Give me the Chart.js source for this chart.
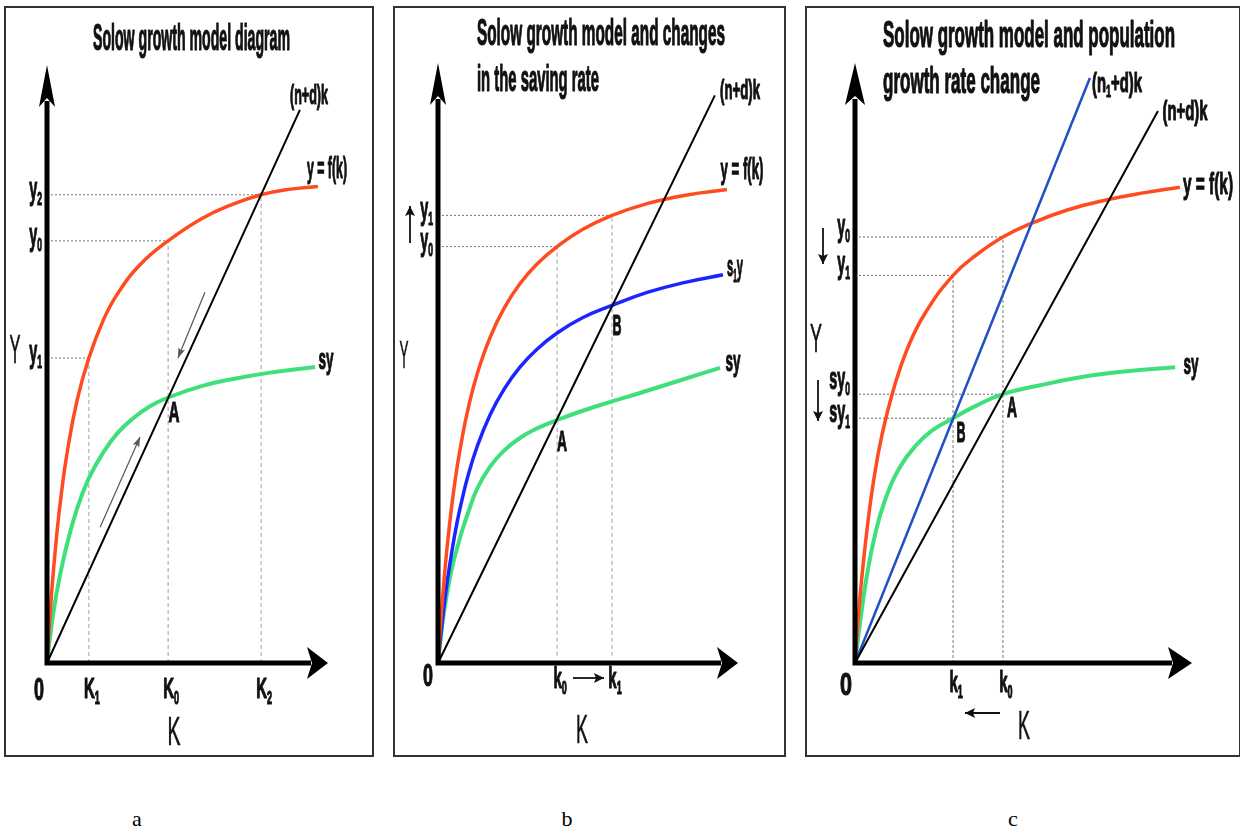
<!DOCTYPE html>
<html><head><meta charset="utf-8">
<script src="https://cdn.jsdelivr.net/npm/chart.js@4.4.1/dist/chart.umd.min.js"></script>
<style>
body{margin:0;background:#fff;width:1240px;height:832px;position:relative;overflow:hidden}
canvas{position:absolute;outline:2px solid #333}
.cap{position:absolute;top:806px;width:40px;text-align:center;line-height:22px;font:22px "Liberation Serif","Times New Roman",serif;color:#000}
</style></head><body>
<canvas id="ca" width="366" height="747" style="left:6px;top:8px"></canvas>
<canvas id="cb" width="389" height="747" style="left:395px;top:8px"></canvas>
<canvas id="cc" width="432" height="747" style="left:807px;top:8px"></canvas>
<div class="cap" style="left:117px">a</div>
<div class="cap" style="left:547px">b</div>
<div class="cap" style="left:993px">c</div>
<script>
// ---- panel a : basic diagram ----
const aOutK = [0, 0.5, 1, 2, 3.6, 5, 7.1, 10.7, 14.9, 20, 24.9, 33.1, 43.1, 55, 66, 76.2, 86, 96.4]
const aOutY = [0, 3.9, 7.5, 13.8, 22.1, 27.9, 35.0, 43.9, 51.0, 57.3, 61.6, 66.6, 70.6, 74.3, 76.7, 78.3, 79.2, 79.7]
const aSavK = [0, 1, 2.1, 4, 7.1, 10.7, 14.9, 20, 25, 30.6, 36.5, 43.1, 55, 66.2, 80, 95.4]
const aSavY = [0, 4.0, 7.9, 13.2, 19.8, 25.8, 30.9, 35.2, 38.4, 40.9, 42.9, 44.4, 46.3, 47.5, 48.6, 49.5]
const aDepK = [0, 90.0]
const aDepY = [0, 92.5]
const aTickK = [14.9, 43.1, 76.2]
const aTickKLabels = ['K_1', 'K_0', 'K_2']
const aTickY = [51.0, 70.6, 78.3]
const aTickYLabels = ['y_1', 'y_0', 'y_2']
const aArrowDown = [[56.2, 62.0], [46.6, 51.0]]
const aArrowUp = [[18.9, 22.7], [33.1, 37.8]]

// ---- panel b : saving rate change ----
const bOutK = [0, 0.5, 1, 2, 3, 4.5, 6.3, 8, 10, 13, 17.3, 22, 27.3, 33, 39.7, 48, 58, 70, 83, 96.3]
const bOutY = [0, 3.9, 7.4, 13.7, 19.1, 25.9, 32.4, 37.4, 42.3, 48.1, 54.2, 59.1, 63.2, 66.5, 69.4, 72.2, 74.6, 76.6, 78.0, 78.9]
const bS1K = [0, 0.5, 1, 2, 3, 4.5, 6.3, 8, 10, 13, 17.3, 22, 27.3, 33, 39.7, 48, 58, 70, 82, 95]
const bS1Y = [0, 2.6, 5.0, 9.4, 13.3, 18.2, 23.3, 27.2, 31.2, 36.0, 41.3, 45.6, 49.3, 52.3, 55.0, 57.5, 59.6, 61.8, 63.4, 64.7]
const bSavK = [0, 1, 2, 3, 4.5, 6.3, 8, 10, 13, 17.3, 22, 27.3, 33, 39.7, 48, 58, 67.3, 80, 94]
const bSavY = [0, 4.5, 8.5, 11.5, 15.5, 19.0, 22.0, 25.0, 29.0, 32.7, 35.4, 37.5, 39.1, 40.5, 42.0, 43.6, 45.0, 47.0, 49.2]
const bDepK = [0, 92.3]
const bDepY = [0, 94.6]
const bTickK = [39.7, 58.0]
const bTickKLabels = ['k_0', 'k_1']
const bTickY = [74.6, 69.4]
const bTickYLabels = ['y_1', 'y_0']

// ---- panel c : population growth change ----
const cOutK = [0, 0.5, 1, 2, 3.6, 5.5, 8, 11.9, 16, 20.8, 29.1, 36, 43.9, 52.5, 63, 74.8, 86, 96.4]
const cOutY = [0, 4.0, 7.7, 14.1, 22.4, 30.3, 38.0, 46.5, 53.0, 58.3, 64.6, 68.0, 71.0, 73.3, 75.5, 77.2, 78.4, 79.3]
const cSavK = [0, 1, 2, 3.6, 6, 9, 13.4, 18, 23, 29.1, 36, 43.9, 55, 67.7, 80, 95]
const cSavY = [0, 4.5, 8.8, 14.8, 21.5, 27.3, 32.7, 36.2, 38.8, 40.8, 42.9, 44.8, 46.3, 47.7, 48.6, 49.3]
const cDep1K = [0, 69.7]
const cDep1Y = [0, 97.5]
const cDepK = [0, 89.9]
const cDepY = [0, 92.0]
const cTickK = [29.1, 43.9]
const cTickKLabels = ['k_1', 'k_0']
const cTickY = [71.0, 64.6, 44.8, 40.8]
const cTickYLabels = ['y_0', 'y_1', 'sy_0', 'sy_1']
const cGuideK = [43.9, 29.1, 43.9, 29.1]

const ORANGE = '#ff4b1f', GREEN = '#3fe07c', BLUE = '#1b26ff', BLUE2 = '#2150c4'

function pts(xs, ys){ return xs.map((x, i) => ({x: x, y: ys[i]})) }

function curve(xs, ys, color, w){
  return {data: pts(xs, ys), borderColor: color, borderWidth: w, showLine: true, pointRadius: 0,
    tension: 0.45, clip: false, order: 1}
}
function guide(p, color, dash){
  return {data: p, borderColor: color, borderWidth: 1, borderDash: dash, showLine: true,
    pointRadius: 0, clip: false, order: 10}
}

// text with "_x" subscripts, squeezed horizontally
function drawRich(ctx, str, x, y, o){
  const s = o.s || 28, weight = o.normal ? 'normal' : 'bold'
  const fam = '"Liberation Sans", Arial, sans-serif'
  const fMain = weight + ' ' + s + 'px ' + fam
  const fSub = weight + ' ' + Math.round(s * 0.6) + 'px ' + fam
  const segs = str.split(/_(.)/)
  let w = 0
  const ws = []
  segs.forEach((t, i) => { ctx.font = i % 2 ? fSub : fMain; const m = ctx.measureText(t).width; ws.push(m); w += m })
  const sx = o.w ? o.w / w : (o.sx || 0.55)
  ctx.save()
  ctx.translate(x, y)
  ctx.scale(sx, 1)
  let cx = o.align === 'right' ? -w : o.align === 'left' ? 0 : -w / 2
  ctx.textBaseline = o.base || 'middle'
  ctx.textAlign = 'left'
  ctx.fillStyle = '#111'
  ctx.strokeStyle = '#111'
  ctx.lineWidth = o.normal ? 0.6 : 1.2
  ctx.lineJoin = 'round'
  segs.forEach((t, i) => {
    ctx.font = i % 2 ? fSub : fMain
    const dy = i % 2 ? s * 0.3 : 0
    ctx.fillText(t, cx, dy)
    ctx.strokeText(t, cx, dy)
    cx += ws[i]
  })
  ctx.restore()
}

function head(ctx, x1, y1, x2, y2, len, hw, notch){
  const a = Math.atan2(y2 - y1, x2 - x1)
  ctx.save()
  ctx.translate(x2, y2)
  ctx.rotate(a)
  ctx.beginPath()
  ctx.moveTo(0, 0)
  ctx.lineTo(-len, -hw)
  ctx.lineTo(-len + (notch || 0), 0)
  ctx.lineTo(-len, hw)
  ctx.closePath()
  ctx.fill()
  ctx.restore()
}

function arrowLine(ctx, x1, y1, x2, y2){
  ctx.save()
  ctx.strokeStyle = '#111'; ctx.fillStyle = '#111'; ctx.lineWidth = 1.8
  ctx.beginPath(); ctx.moveTo(x1, y1); ctx.lineTo(x2, y2); ctx.stroke()
  head(ctx, x1, y1, x2, y2, 10, 5, 2)
  ctx.restore()
}

const decos = {}

const solowPlugin = {
  id: 'solow',
  afterDatasetsDraw(chart){
    const d = decos[chart.canvas.id]
    const ctx = chart.ctx, xs = chart.scales.x, ys = chart.scales.y
    // small gray arrows given as datasets
    chart.data.datasets.forEach((ds, i) => {
      if(!ds.arrow) return
      const m = chart.getDatasetMeta(i).data
      const p1 = m[m.length - 2], p2 = m[m.length - 1]
      ctx.fillStyle = ds.borderColor
      head(ctx, p1.x, p1.y, p2.x, p2.y, 10, 3.5, 2)
    })
    // axes
    const x0 = xs.getPixelForValue(0), y0 = ys.getPixelForValue(0)
    const xt = xs.getPixelForValue(100), yt = ys.getPixelForValue(100)
    ctx.save()
    ctx.strokeStyle = '#000'; ctx.fillStyle = '#000'; ctx.lineWidth = 5
    ctx.beginPath()
    ctx.moveTo(x0, y0 + 2.5); ctx.lineTo(x0, yt + d.yHead[1] - 6)
    ctx.moveTo(x0 - 2.5, y0); ctx.lineTo(xt - d.xHead[1] + 4, y0)
    ctx.stroke()
    head(ctx, x0, yt + 50, x0, yt, d.yHead[1], d.yHead[0], 9)
    head(ctx, xt - 50, y0, xt, y0, d.xHead[1], d.xHead[0], 5)
    ctx.restore()
  },
  afterDraw(chart){
    const d = decos[chart.canvas.id]
    const ctx = chart.ctx, xs = chart.scales.x, ys = chart.scales.y
    const ox = d.left, oy = d.top
    d.title.forEach(t => drawRich(ctx, t.t, t.x - ox, t.y - oy, {s: 36, w: t.w, align: 'left', base: 'alphabetic'}))
    d.labels.forEach(l => drawRich(ctx, l.t, l.x - ox, l.y - oy, l))
    const x0 = xs.getPixelForValue(0)
    d.xTicks.forEach((v, i) => drawRich(ctx, d.xTickLabels[i], xs.getPixelForValue(v) + d.xTickDx, d.xTickY - oy, {s: 30, sx: 0.5}))
    d.yTicks.forEach((v, i) => drawRich(ctx, d.yTickLabels[i], x0 - 5, ys.getPixelForValue(v) + (d.yTickDy ? d.yTickDy[i] : -5), {s: 32, sx: 0.45, align: 'right'}))
    d.arrows.forEach(a => arrowLine(ctx, a[0] - ox, a[1] - oy, a[2] - ox, a[3] - oy))
  }
}

function makeChart(id, pad, datasets, deco){
  decos[id] = deco
  return new Chart(document.getElementById(id).getContext('2d'), {
    type: 'scatter',
    data: {datasets: datasets},
    options: {
      responsive: false, animation: false, events: [],
      layout: {padding: pad},
      plugins: {legend: {display: false}, tooltip: {enabled: false}},
      scales: {
        x: {type: 'linear', min: 0, max: 100, display: false},
        y: {type: 'linear', min: 0, max: 100, display: false}
      }
    },
    plugins: [solowPlugin]
  })
}

// panel a
let aDs = [
  curve(aDepK, aDepY, '#000', 2),
  curve(aOutK, aOutY, ORANGE, 3.5),
  curve(aSavK, aSavY, GREEN, 4),
  {data: aArrowDown.map(p => ({x: p[0], y: p[1]})), borderColor: '#555', borderWidth: 1.2, showLine: true, pointRadius: 0, arrow: true, order: 2},
  {data: aArrowUp.map(p => ({x: p[0], y: p[1]})), borderColor: '#555', borderWidth: 1.2, showLine: true, pointRadius: 0, arrow: true, order: 2}
]
for(let i = 0; i < aTickK.length; i++){
  aDs.push(guide([{x: 0, y: aTickY[i]}, {x: aTickK[i], y: aTickY[i]}], '#7a7a7a', [2, 2]))
  aDs.push(guide([{x: aTickK[i], y: 0}, {x: aTickK[i], y: aTickY[i]}], '#a0a0a0', [4, 3]))
}
makeChart('ca', {left: 41, top: 57, right: 44, bottom: 92}, aDs, {
  left: 6, top: 8, yHead: [8, 42], xHead: [16, 21],
  title: [{t: 'Solow growth model diagram', x: 93, y: 50, w: 197}],
  labels: [
    {t: '(n+d)k', x: 309, y: 96, s: 28, w: 38},
    {t: 'y = f(k)', x: 327, y: 170, s: 30, w: 40},
    {t: 'sy', x: 326, y: 361, s: 30, w: 15},
    {t: 'A', x: 174, y: 414, s: 30, w: 11},
    {t: 'Y', x: 15, y: 352, s: 40, w: 11, normal: true},
    {t: '0', x: 39, y: 691, s: 32, w: 10},
    {t: 'K', x: 174, y: 734, s: 40, w: 13, normal: true}
  ],
  xTicks: aTickK, xTickLabels: aTickKLabels, xTickDx: 3, xTickY: 690,
  yTicks: aTickY, yTickLabels: aTickYLabels,
  arrows: []
})

// panel b
let bDs = [
  curve(bDepK, bDepY, '#000', 2),
  curve(bOutK, bOutY, ORANGE, 3.5),
  curve(bS1K, bS1Y, BLUE, 3.5),
  curve(bSavK, bSavY, GREEN, 4)
]
for(let i = 0; i < bTickK.length; i++){
  bDs.push(guide([{x: 0, y: bTickY[1 - i]}, {x: bTickK[i], y: bTickY[1 - i]}], '#7a7a7a', [2, 2]))
  bDs.push(guide([{x: bTickK[i], y: 1.2}, {x: bTickK[i], y: bTickY[1 - i]}], '#a0a0a0', [4, 3]))
}
makeChart('cb', {left: 43, top: 55, right: 46, bottom: 92}, bDs, {
  left: 395, top: 8, yHead: [8, 42], xHead: [16, 21],
  title: [{t: 'Solow growth model and changes', x: 477, y: 45, w: 248},
          {t: 'in the saving rate', x: 477, y: 91, w: 122}],
  labels: [
    {t: '(n+d)k', x: 740, y: 91, s: 28, w: 40},
    {t: 'y = f(k)', x: 742, y: 171, s: 30, w: 43},
    {t: 's_1y', x: 735, y: 268, s: 30, w: 16},
    {t: 'B', x: 617, y: 327, s: 30, w: 9},
    {t: 'sy', x: 733, y: 363, s: 30, w: 15},
    {t: 'A', x: 562, y: 443, s: 30, w: 10},
    {t: 'Y', x: 404, y: 358, s: 38, w: 9, normal: true},
    {t: '0', x: 428, y: 677, s: 32, w: 10},
    {t: 'K', x: 582, y: 732, s: 40, w: 12, normal: true}
  ],
  xTicks: bTickK, xTickLabels: bTickKLabels, xTickDx: 3, xTickY: 680,
  yTicks: bTickY, yTickLabels: bTickYLabels,
  arrows: [[410, 243, 410, 206], [573, 678, 604, 678]]
})

// panel c
let cDs = [
  curve(cDepK, cDepY, '#000', 2),
  curve(cDep1K, cDep1Y, BLUE2, 2.5),
  curve(cOutK, cOutY, ORANGE, 3.5),
  curve(cSavK, cSavY, GREEN, 4)
]
for(let i = 0; i < cTickY.length; i++)
  cDs.push(guide([{x: 0, y: cTickY[i]}, {x: cGuideK[i], y: cTickY[i]}], '#6a6a6a', [2, 2]))
cDs.push(guide([{x: cTickK[1], y: 0}, {x: cTickK[1], y: cTickY[0]}], '#7a7a7a', [3, 2]))
cDs.push(guide([{x: cTickK[0], y: 0}, {x: cTickK[0], y: cTickY[1]}], '#7a7a7a', [3, 2]))
makeChart('cc', {left: 48, top: 55, right: 47, bottom: 92}, cDs, {
  left: 807, top: 8, yHead: [10, 42], xHead: [16, 24],
  title: [{t: 'Solow growth model and population', x: 883, y: 47, w: 292},
          {t: 'growth rate change', x: 883, y: 93, w: 157}],
  labels: [
    {t: '(n_1+d)k', x: 1117, y: 84, s: 28, w: 50},
    {t: '(n+d)k', x: 1185, y: 112, s: 28, w: 45},
    {t: 'y = f(k)', x: 1208, y: 186, s: 30, w: 50},
    {t: 'sy', x: 1191, y: 366, s: 30, w: 15},
    {t: 'A', x: 1012, y: 409, s: 30, w: 10},
    {t: 'B', x: 961, y: 434, s: 30, w: 9},
    {t: 'Y', x: 816, y: 341, s: 40, w: 12, normal: true},
    {t: '0', x: 846, y: 686, s: 32, w: 12},
    {t: 'K', x: 1024, y: 728, s: 40, w: 12, normal: true}
  ],
  xTicks: cTickK, xTickLabels: cTickKLabels, xTickDx: 3, xTickY: 684,
  yTicks: cTickY, yTickLabels: cTickYLabels, yTickDy: [-10, -11, -14, -5],
  arrows: [[823, 228, 823, 264], [818, 380, 818, 421], [1000, 713, 965, 713]]
})
</script>
</body></html>
